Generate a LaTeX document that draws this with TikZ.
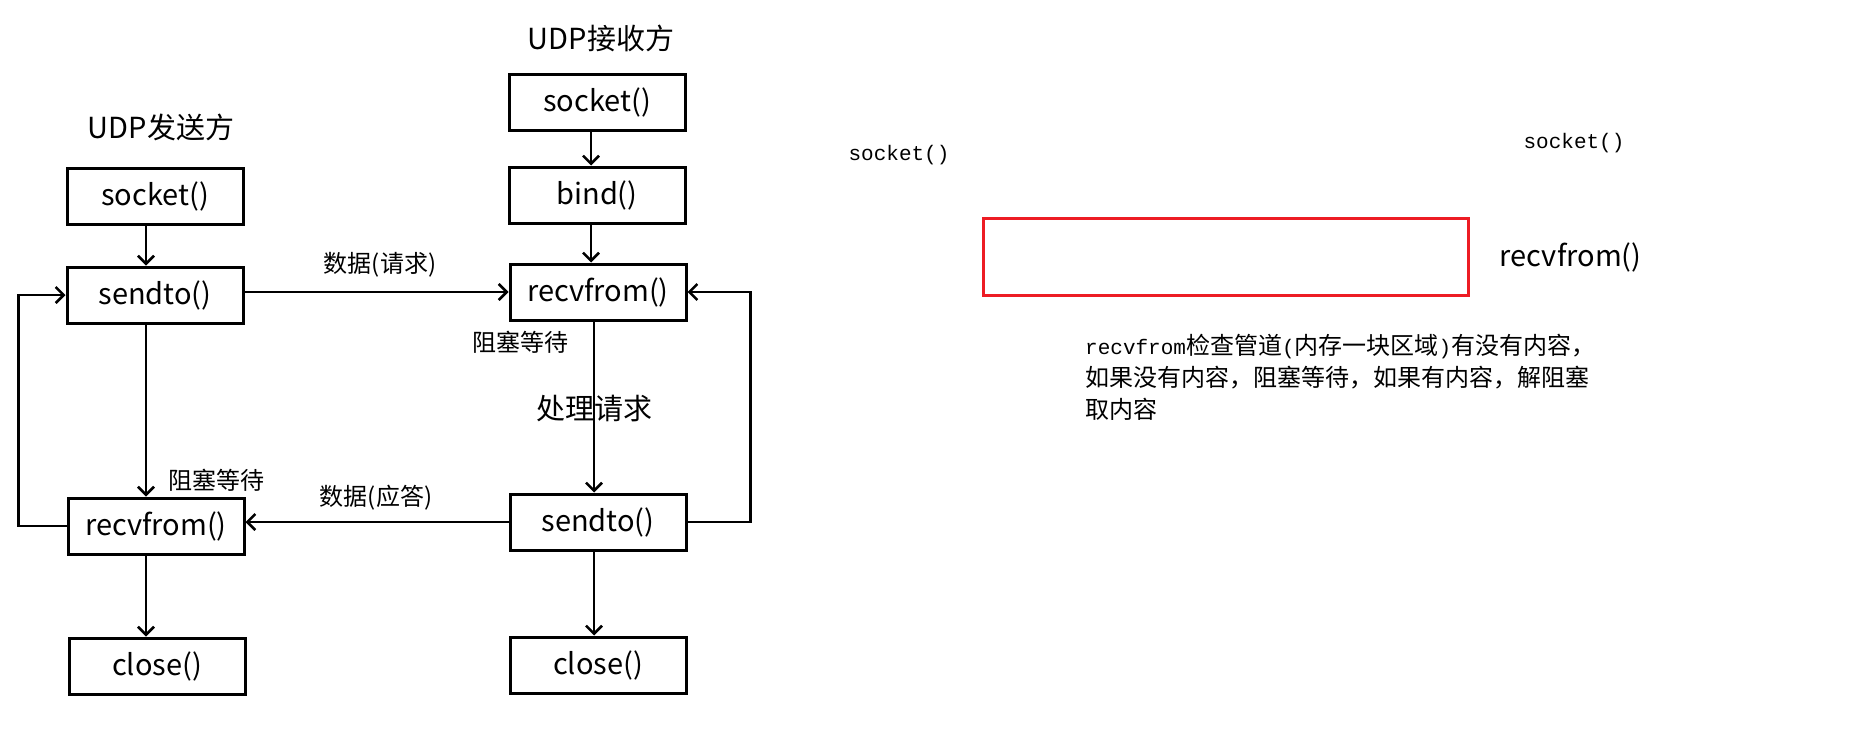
\documentclass[tikz,border=0pt]{standalone}
\usepackage{fontspec}
\setmainfont{Noto Sans CJK SC}
\setmonofont{Liberation Mono}
\usetikzlibrary{arrows.meta,positioning}
\definecolor{rot}{HTML}{ED1C24}
\newcommand{\hw}[1]{{\fontsize{21}{32}\selectfont\ttfamily #1}}

\begin{document}
\begin{tikzpicture}[
        x=1pt, y=-1pt,
        box/.style={draw, line width=3pt, minimum width=176pt, minimum height=56pt,
            inner sep=0pt, font=\fontsize{29}{34}\selectfont},
        titel/.style={inner sep=0pt, font=\fontsize{29}{34}\selectfont},
        lbl/.style={inner sep=0pt, font=\fontsize{24}{28}\selectfont},
        pfeil/.style={line width=2.5pt},
        >={Straight Barb[length=8pt,width=16pt]} % Pfeilspitzen
        ]
            \useasboundingbox (0,0) rectangle (1849,752);

            % Sender
            \node[titel] (titelS) at (161,127) {UDP发送方};
            \node[box] (socketS) at (155,196) {socket()};
            \node[box] (sendS)   at (155,295) {sendto()};
            \node[box] (recvS)   at (156,526) {recvfrom()};
            \node[box] (closeS)  at (157,666) {close()};

            % Empfaenger
            \node[titel] (titelE) at (601,38) {UDP接收方};
            \node[box] (socketE) at (597,102) {socket()};
            \node[box] (bindE)   at (597,195) {bind()};
            \node[box] (recvE)   at (598,292) {recvfrom()};
            \node[box] (sendE)   at (598,522) {sendto()};
            \node[box] (closeE)  at (598,665) {close()};

            % Ablauf
            \draw[pfeil,->] ([xshift=-9pt]socketS.south) -- ([xshift=-9pt]sendS.north);
            \draw[pfeil,->] ([xshift=-9pt]sendS.south) -- ([xshift=-10pt]recvS.north);
            \draw[pfeil,->] ([xshift=-10pt]recvS.south) -- ([xshift=-11pt]closeS.north);
            \draw[pfeil,->] ([xshift=-6pt]socketE.south) -- ([xshift=-6pt]bindE.north);
            \draw[pfeil,->] ([xshift=-6pt]bindE.south) -- ([xshift=-7pt]recvE.north);
            \draw[pfeil,->] ([xshift=-4pt]recvE.south) -- ([xshift=-4pt]sendE.north);
            \draw[pfeil,->] ([xshift=-4pt]sendE.south) -- ([xshift=-4pt]closeE.north);

            % Daten
            \draw[pfeil,->] (recvE.west -| sendS.east) -- (recvE.west);
            \draw[pfeil,->] (sendE.west) -- (sendE.west -| recvS.east);

            % Schleifen
            \draw[pfeil,->] (recvS.west) -- ++(-48,0) |- (sendS.west);
            \draw[pfeil,->] (sendE.east) -- ++(63,0) |- (recvE.east);

            % Beschriftung
            \draw   (380,265) node[lbl] (anfrage) {数据(请求)}
                    (376,498) node[lbl] (antwort) {数据(应答)}
                    (520,342) node[lbl] (wartenE) {阻塞等待}
                    (216,480) node[lbl] (wartenS) {阻塞等待}
                    (594,409) node[titel] (verarb) {处理请求};

            % Notiz
            \node[inner sep=0pt] (sockA) at (899,155) {\hw{socket()}};
            \node[inner sep=0pt] (sockB) at (1574,143) {\hw{socket()}};
            \node[draw=rot, line width=2.5pt, minimum width=485pt, minimum height=77pt,
                inner sep=0pt] (puffer) at (1226,257) {};
            \node[titel, right=30pt of puffer] (recvN) {recvfrom()};
            \node[inner sep=0pt, anchor=north west, align=left,
                font=\fontsize{24}{32}\selectfont] (hinweis) at (1085,334)
                {\hw{recvfrom}检查管道\hw{(}内存一块区域\hw{)}有没有内容，\\
                 如果没有内容，阻塞等待，如果有内容，解阻塞\\
                 取内容};

        \end{tikzpicture}
\end{document}
